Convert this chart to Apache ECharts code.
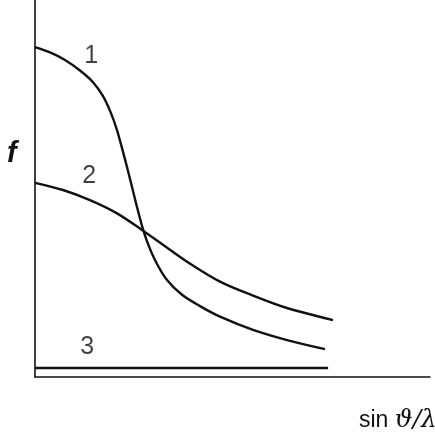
<!DOCTYPE html>
<html><head><meta charset="utf-8">
<script src="https://cdn.jsdelivr.net/npm/echarts@6/dist/echarts.min.js"></script>
<style>html,body{margin:0;padding:0;background:#fff}#c{width:435px;height:444px}</style>
</head><body><div id="c"></div>
<script>
// Curve data (x: sin θ/λ arbitrary units 0–100, y: f arbitrary units 0–100)
const curve1X = [0, 3.80, 7.59, 11.39, 14.68, 17.22, 19.24, 20.76, 22.03, 23.29, 24.56, 25.82, 27.09, 28.61, 30.63, 33.42, 37.22, 41.77, 46.84, 55.19, 63.80, 73.42];
const curve1Y = [87.5, 86.1, 84.1, 81.3, 78.2, 74.5, 70.0, 65.5, 60.7, 55.7, 50.4, 45.1, 40.1, 35.3, 30.5, 25.7, 21.8, 18.8, 16.0, 12.5, 9.8, 7.4];
const curve2X = [0, 7.09, 13.92, 20.76, 27.09, 32.91, 38.48, 46.84, 55.19, 63.80, 75.44];
const curve2Y = [51.5, 49.6, 46.9, 43.4, 39.0, 34.7, 30.6, 25.3, 21.6, 18.3, 15.1];
const curve3X = [0, 74.2];
const curve3Y = [2.4, 2.4];
const curveNames = ['1', '2', '3'];
const labelX = [14.2, 13.7, 13.2];
const labelY = [85.1, 53.3, 8.0];

const zip = (xs, ys) => xs.map((x, i) => [x, ys[i]]);
const chart = echarts.init(document.getElementById('c'), null, {renderer: 'canvas'});
const lineStyle = {color: '#111', width: 2.4};
chart.setOption({
  animation: false,
  backgroundColor: '#fff',
  grid: {left: 35, right: 5, top: 0, bottom: 67},
  xAxis: {type: 'value', min: 0, max: 100, axisLine: {show: true, onZero: false, lineStyle: {color: '#111', width: 1.6}},
    axisTick: {show: false}, axisLabel: {show: false}, splitLine: {show: false}},
  yAxis: {type: 'value', min: 0, max: 100, axisLine: {show: true, onZero: false, lineStyle: {color: '#111', width: 1.6}},
    axisTick: {show: false}, axisLabel: {show: false}, splitLine: {show: false}},
  series: [
    {type: 'line', data: zip(curve1X, curve1Y), smooth: 0.33, showSymbol: false, lineStyle},
    {type: 'line', data: zip(curve2X, curve2Y), smooth: 0.33, showSymbol: false, lineStyle},
    {type: 'line', data: zip(curve3X, curve3Y), showSymbol: false, lineStyle},
    {type: 'scatter', symbolSize: 0, silent: true,
      data: curveNames.map((n, i) => ({value: [labelX[i], labelY[i]], name: n})),
      label: {show: true, position: 'inside', formatter: p => p.name, color: '#111',
        fontFamily: 'Liberation Sans', fontSize: 25}}
  ],
  graphic: [
    {type: 'text', left: 7, top: 139, style: {text: 'f', font: 'italic bold 29px "Liberation Sans"', fill: '#111'}},
    {type: 'text', left: 359, top: 408, style: {
      text: '{a|sin }{b|ϑ/λ}',
      rich: {a: {font: '23px "Liberation Sans"', fill: '#111'}, b: {font: 'italic 25px "DejaVu Serif"', fill: '#111'}}}}
  ]
});
</script></body></html>
